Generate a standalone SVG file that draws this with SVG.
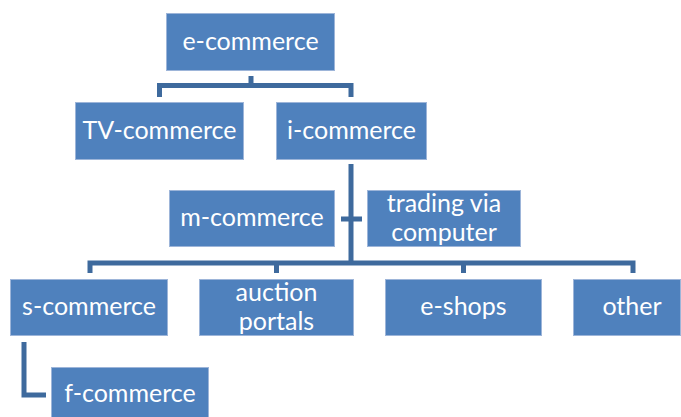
<svg xmlns="http://www.w3.org/2000/svg" width="681" height="417" viewBox="0 0 681 417">
<style>
.box{fill:#4f81bd;stroke:#9db5d9;stroke-width:1}
.t{fill:#ffffff;font-family:Lato,"Open Sans",sans-serif;font-size:25px;text-anchor:middle}
.c{fill:none;stroke:#3e6a9d;stroke-width:5;stroke-linejoin:miter}
</style>
<rect width="681" height="417" fill="#ffffff"/>
<g id="connectors">
<path class="c" d="M251,76 V85.5 M159.5,97 V85.5 H351 V97"/>
<path class="c" d="M351,164 V263 M341,219 H362"/>
<path class="c" d="M90,273 V263 H633 V273 M276.5,263 V273 M463.5,263 V273"/>
<path class="c" d="M24,342 V395 H46"/>
</g>
<g id="e-commerce"><rect class="box" x="166.5" y="13.5" width="168" height="57"/><text class="t" x="250.5" y="50">e-commerce</text></g>
<g id="tv-commerce"><rect class="box" x="75.5" y="102.5" width="168" height="57"/><text class="t" x="159.5" y="139">TV-commerce</text></g>
<g id="i-commerce"><rect class="box" x="276.5" y="102.5" width="150" height="57"/><text class="t" x="351.5" y="139">i-commerce</text></g>
<g id="m-commerce"><rect class="box" x="169.5" y="190.5" width="165" height="56"/><text class="t" x="252" y="226">m-commerce</text></g>
<g id="trading"><rect class="box" x="367.5" y="190.5" width="153" height="56"/><text class="t" x="444" y="212">trading via</text><text class="t" x="444" y="241">computer</text></g>
<g id="s-commerce"><rect class="box" x="10.5" y="279.5" width="157" height="56"/><text class="t" x="89" y="315">s-commerce</text></g>
<g id="auction"><rect class="box" x="199.5" y="279.5" width="154" height="56"/><text class="t" x="276.5" y="301">auction</text><text class="t" x="276.5" y="330">portals</text></g>
<g id="e-shops"><rect class="box" x="385.5" y="279.5" width="156" height="56"/><text class="t" x="463.5" y="315">e-shops</text></g>
<g id="other"><rect class="box" x="573.5" y="279.5" width="107" height="56"/><text class="t" x="632" y="315">other</text></g>
<g id="f-commerce"><rect class="box" x="51.5" y="367.5" width="157" height="52"/><text class="t" x="130" y="402">f-commerce</text></g>
</svg>
